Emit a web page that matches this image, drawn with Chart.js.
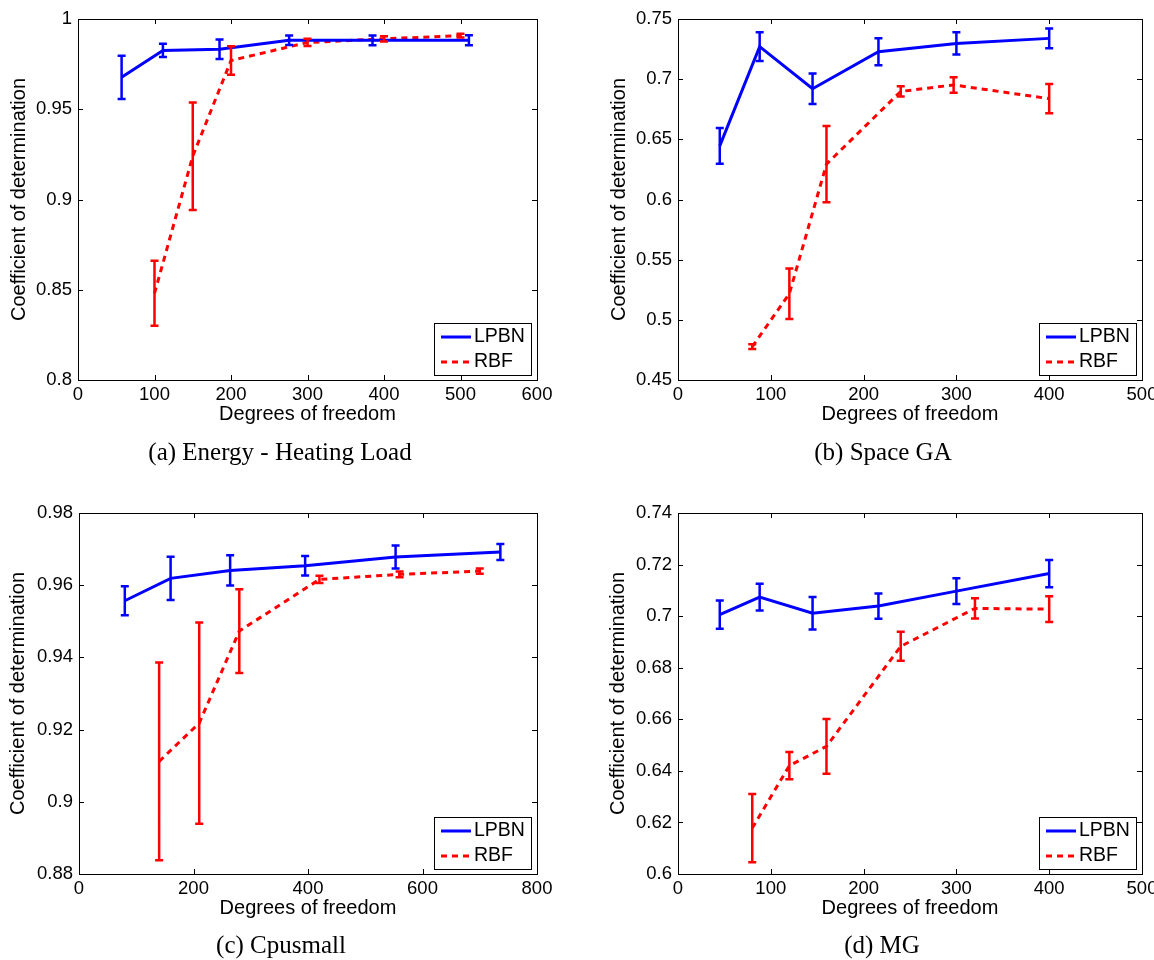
<!DOCTYPE html>
<html>
<head>
<meta charset="utf-8">
<script src="https://cdn.jsdelivr.net/npm/chart.js@4.4.1/dist/chart.umd.min.js"></script>
<style>
  body { margin: 0; background: #fff; width: 1154px; height: 960px; overflow: hidden; position: relative; }
  canvas { position: absolute; }
  .cap { position: absolute; width: 400px; text-align: center; font: 25px/30px "Liberation Serif", "Times New Roman", serif; color: #000; }
</style>
</head>
<body>
<canvas id="chartA" width="580" height="470" style="left:0;top:0"></canvas>
<canvas id="chartB" width="600" height="470" style="left:580px;top:0"></canvas>
<canvas id="chartC" width="580" height="480" style="left:0;top:480px"></canvas>
<canvas id="chartD" width="600" height="480" style="left:580px;top:480px"></canvas>
<div class="cap" style="left:80px;top:437px">(a) Energy - Heating Load</div>
<div class="cap" style="left:683px;top:437px">(b) Space GA</div>
<div class="cap" style="left:81px;top:930px">(c) Cpusmall</div>
<div class="cap" style="left:682px;top:930px">(d) MG</div>
<script>
  // (a) Energy - Heating Load
  const lpbnXA = [57, 111, 185, 276, 385, 511];
  const lpbnYA = [0.9677, 0.9826, 0.9832, 0.9882, 0.9882, 0.9882];
  const lpbnErrA = [0.012, 0.0037, 0.0054, 0.0026, 0.0027, 0.0028];
  const rbfXA = [100, 150, 200, 300, 400, 500];
  const rbfYA = [0.848, 0.924, 0.977, 0.987, 0.989, 0.9908];
  const rbfErrA = [0.018, 0.0298, 0.0079, 0.002, 0.0015, 0.001];
  const xTicksA = [0, 100, 200, 300, 400, 500, 600];
  const yTicksA = [0.8, 0.85, 0.9, 0.95, 1];

  // (b) Space GA
  const lpbnXB = [45, 88, 145, 216, 300, 400];
  const lpbnYB = [0.6446, 0.727, 0.692, 0.7228, 0.7297, 0.7339];
  const lpbnErrB = [0.0148, 0.0119, 0.0127, 0.0113, 0.0092, 0.0083];
  const rbfXB = [80, 120, 160, 240, 297, 400];
  const rbfYB = [0.4777, 0.5217, 0.6294, 0.6898, 0.6952, 0.6838];
  const rbfErrB = [0.002, 0.021, 0.0317, 0.0043, 0.0064, 0.0122];
  const xTicksB = [0, 100, 200, 300, 400, 500];
  const yTicksB = [0.45, 0.5, 0.55, 0.6, 0.65, 0.7, 0.75];

  // (c) Cpusmall
  const lpbnXC = [80, 160, 264, 395, 553, 736];
  const lpbnYC = [0.9557, 0.9619, 0.9641, 0.9654, 0.9678, 0.9692];
  const lpbnErrC = [0.004, 0.006, 0.0042, 0.0027, 0.0032, 0.0022];
  const rbfXC = [140, 210, 280, 420, 560, 700];
  const rbfYC = [0.9112, 0.9218, 0.9473, 0.9616, 0.963, 0.9639];
  const rbfErrC = [0.0274, 0.0279, 0.0116, 0.001, 0.0008, 0.0007];
  const xTicksC = [0, 200, 400, 600, 800];
  const yTicksC = [0.88, 0.9, 0.92, 0.94, 0.96, 0.98];

  // (d) MG
  const lpbnXD = [45, 88, 145, 216, 300, 400];
  const lpbnYD = [0.7006, 0.7074, 0.7011, 0.7039, 0.7097, 0.7165];
  const lpbnErrD = [0.0055, 0.0052, 0.0063, 0.0049, 0.005, 0.0053];
  const rbfXD = [80, 120, 160, 240, 320, 400];
  const rbfYD = [0.6178, 0.642, 0.6495, 0.6883, 0.703, 0.7027];
  const rbfErrD = [0.0132, 0.0053, 0.0106, 0.0056, 0.0039, 0.005];
  const xTicksD = [0, 100, 200, 300, 400, 500];
  const yTicksD = [0.6, 0.62, 0.64, 0.66, 0.68, 0.7, 0.72, 0.74];

  const seriesNames = ['LPBN', 'RBF'];

  Chart.defaults.font.family = '"Liberation Sans", Arial, Helvetica, sans-serif';
  Chart.defaults.color = '#000';

  // vertical error bars with small caps
  const errorBars = {
    id: 'errorBars',
    afterDatasetsDraw(chart) {
      const { ctx, scales: { x, y } } = chart;
      chart.data.datasets.forEach(ds => {
        ctx.save();
        ctx.strokeStyle = ds.borderColor;
        ctx.lineWidth = 2.5;
        ctx.setLineDash([]);
        ctx.beginPath();
        ds.data.forEach((p, i) => {
          const px = x.getPixelForValue(p.x);
          const top = y.getPixelForValue(p.y + ds.errors[i]);
          const bot = y.getPixelForValue(p.y - ds.errors[i]);
          ctx.moveTo(px, top); ctx.lineTo(px, bot);
          ctx.moveTo(px - 4, top); ctx.lineTo(px + 4, top);
          ctx.moveTo(px - 4, bot); ctx.lineTo(px + 4, bot);
        });
        ctx.stroke();
        ctx.restore();
      });
    }
  };

  // matlab style box with inward ticks + legend in the lower right corner
  const frame = {
    id: 'frame',
    afterDraw(chart) {
      const { ctx, chartArea: a, scales: { x, y } } = chart;
      ctx.save();
      ctx.strokeStyle = '#000';
      ctx.lineWidth = 1;
      ctx.strokeRect(a.left + 0.5, a.top + 0.5, a.right - a.left, a.bottom - a.top);
      ctx.beginPath();
      x.ticks.forEach(t => {
        const p = Math.round(x.getPixelForValue(t.value)) + 0.5;
        ctx.moveTo(p, a.bottom); ctx.lineTo(p, a.bottom - 5);
        ctx.moveTo(p, a.top); ctx.lineTo(p, a.top + 5);
      });
      y.ticks.forEach(t => {
        const p = Math.round(y.getPixelForValue(t.value)) + 0.5;
        ctx.moveTo(a.left, p); ctx.lineTo(a.left + 5, p);
        ctx.moveTo(a.right, p); ctx.lineTo(a.right - 5, p);
      });
      ctx.stroke();

      const w = 97, h = 52;
      const bx = Math.round(a.right - 6 - w), by = Math.round(a.bottom - 5 - h);
      ctx.fillStyle = '#fff';
      ctx.fillRect(bx, by, w, h);
      ctx.strokeRect(bx + 0.5, by + 0.5, w, h);
      ctx.font = '19.5px "Liberation Sans", Arial, sans-serif';
      ctx.textBaseline = 'middle';
      chart.data.datasets.forEach((ds, i) => {
        const cy = by + 14 + i * 25;
        ctx.strokeStyle = ds.borderColor;
        ctx.lineWidth = 3;
        ctx.setLineDash(ds.borderDash || []);
        ctx.beginPath();
        ctx.moveTo(bx + 7, cy); ctx.lineTo(bx + 37, cy);
        ctx.stroke();
        ctx.fillStyle = '#000';
        ctx.fillText(ds.label, bx + 40, cy);
      });
      ctx.restore();
    }
  };

  function makePanel(id, p) {
    const pts = (xs, ys) => xs.map((v, i) => ({ x: v, y: ys[i] }));
    return new Chart(document.getElementById(id), {
      type: 'line',
      data: {
        datasets: [{
          label: seriesNames[0],
          data: pts(p.lx, p.ly),
          errors: p.le,
          borderColor: '#0000ff',
          borderWidth: 3,
          pointRadius: 0,
          fill: false
        }, {
          label: seriesNames[1],
          data: pts(p.rx, p.ry),
          errors: p.re,
          borderColor: '#ff0000',
          borderWidth: 3,
          borderDash: [6, 5],
          pointRadius: 0,
          fill: false
        }]
      },
      options: {
        responsive: false,
        animation: false,
        layout: { padding: p.pad },
        plugins: { legend: { display: false }, tooltip: { enabled: false } },
        scales: {
          x: {
            type: 'linear',
            min: p.xt[0],
            max: p.xt[p.xt.length - 1],
            afterBuildTicks: s => { s.ticks = p.xt.map(v => ({ value: v })); },
            afterFit: s => { s.height = 48; },
            grid: { display: false, drawTicks: false },
            border: { display: false },
            ticks: { autoSkip: false, maxRotation: 0, padding: 4, font: { size: 18.5 }, callback: v => String(v) },
            title: { display: true, text: 'Degrees of freedom', font: { size: 20 }, padding: { top: 0, bottom: 2 } }
          },
          y: {
            type: 'linear',
            min: p.yt[0],
            max: p.yt[p.yt.length - 1],
            afterBuildTicks: s => { s.ticks = p.yt.map(v => ({ value: v })); },
            afterFit: s => { s.width = p.yw; },
            grid: { display: false, drawTicks: false },
            border: { display: false },
            ticks: { autoSkip: false, padding: 6, font: { size: 18.5 }, callback: v => String(v) },
            title: { display: true, text: 'Coefficient of determination', font: { size: 20 }, padding: { top: p.tp, bottom: 0 } }
          }
        }
      },
      plugins: [errorBars, frame]
    });
  }

  makePanel('chartA', { lx: lpbnXA, ly: lpbnYA, le: lpbnErrA, rx: rbfXA, ry: rbfYA, re: rbfErrA,
    xt: xTicksA, yt: yTicksA, yw: 78, tp: 7, pad: { left: 0, top: 19, right: 43, bottom: 42 } });
  makePanel('chartB', { lx: lpbnXB, ly: lpbnYB, le: lpbnErrB, rx: rbfXB, ry: rbfYB, re: rbfErrB,
    xt: xTicksB, yt: yTicksB, yw: 98, tp: 27, pad: { left: 0, top: 19, right: 38, bottom: 42 } });
  makePanel('chartC', { lx: lpbnXC, ly: lpbnYC, le: lpbnErrC, rx: rbfXC, ry: rbfYC, re: rbfErrC,
    xt: xTicksC, yt: yTicksC, yw: 79, tp: 6, pad: { left: 0, top: 33, right: 43, bottom: 38 } });
  makePanel('chartD', { lx: lpbnXD, ly: lpbnYD, le: lpbnErrD, rx: rbfXD, ry: rbfYD, re: rbfErrD,
    xt: xTicksD, yt: yTicksD, yw: 98, tp: 26, pad: { left: 0, top: 33, right: 38, bottom: 38 } });
</script>
</body>
</html>
